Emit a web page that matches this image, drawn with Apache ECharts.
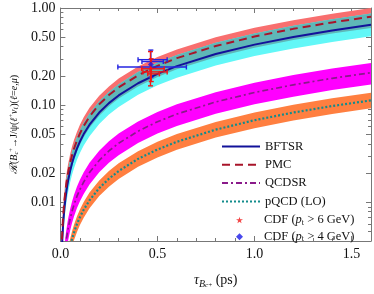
<!DOCTYPE html>
<html><head><meta charset="utf-8">
<script src="https://cdn.jsdelivr.net/npm/echarts@6/dist/echarts.min.js"></script>
<style>html,body{margin:0;padding:0;background:#fff}#c{width:374px;height:294px}</style>
</head><body><div id="c"></div>
<script>
// lifetime grid (ps)
const tau = [0.006,0.008,0.01,0.013,0.016,0.02,0.025,0.03,0.035,0.04,0.05,0.06,0.07,0.085,0.1,0.12,0.15,0.2,0.25,0.3,0.4,0.5,0.6,0.8,1.0,1.2,1.4,1.6];
// BFTSR
const bftsr   = [0.00252,0.00336,0.0042,0.00546,0.00672,0.0084,0.0105,0.0126,0.0147,0.0168,0.021,0.0252,0.0294,0.0357,0.042,0.0504,0.063,0.084,0.105,0.126,0.168,0.21,0.252,0.336,0.42,0.504,0.588,0.672];
const bftsrHi = [0.00329,0.00438,0.00548,0.00712,0.00877,0.011,0.0137,0.0164,0.0192,0.0219,0.0274,0.0329,0.0384,0.0466,0.0548,0.0658,0.0822,0.11,0.137,0.164,0.219,0.274,0.329,0.438,0.548,0.658,0.767,0.877];
const bftsrLo = [0.00192,0.00256,0.0032,0.00416,0.00512,0.0064,0.008,0.0096,0.0112,0.0128,0.016,0.0192,0.0224,0.0272,0.032,0.0384,0.048,0.064,0.08,0.096,0.128,0.16,0.192,0.256,0.32,0.384,0.448,0.512];
// PMC
const pmc   = [0.00305,0.00406,0.00508,0.0066,0.00813,0.0102,0.0127,0.0152,0.0178,0.0203,0.0254,0.0305,0.0356,0.0432,0.0508,0.061,0.0762,0.102,0.127,0.152,0.203,0.254,0.305,0.406,0.508,0.61,0.711,0.813];
const pmcHi = [0.00375,0.005,0.00625,0.00813,0.01,0.0125,0.0156,0.0188,0.0219,0.025,0.0313,0.0375,0.0438,0.0531,0.0625,0.075,0.0938,0.125,0.156,0.188,0.25,0.313,0.375,0.5,0.625,0.75,0.875,1.0];
const pmcLo = [0.00234,0.00312,0.0039,0.00507,0.00624,0.0078,0.00975,0.0117,0.0137,0.0156,0.0195,0.0234,0.0273,0.0332,0.039,0.0468,0.0585,0.078,0.0975,0.117,0.156,0.195,0.234,0.312,0.39,0.468,0.546,0.624];
// QCDSR
const qcdsr   = [0.00081,0.00108,0.00135,0.00176,0.00216,0.0027,0.00338,0.00405,0.00473,0.0054,0.00675,0.0081,0.00945,0.0115,0.0135,0.0162,0.0203,0.027,0.0338,0.0405,0.054,0.0675,0.081,0.108,0.135,0.162,0.189,0.216];
const qcdsrHi = [0.00102,0.00136,0.0017,0.00221,0.00272,0.0034,0.00425,0.0051,0.00595,0.0068,0.0085,0.0102,0.0119,0.0145,0.017,0.0204,0.0255,0.034,0.0425,0.051,0.068,0.085,0.102,0.136,0.17,0.204,0.238,0.272];
const qcdsrLo = [0.000612,0.000816,0.00102,0.00133,0.00163,0.00204,0.00255,0.00306,0.00357,0.00408,0.0051,0.00612,0.00714,0.00867,0.0102,0.0122,0.0153,0.0204,0.0255,0.0306,0.0408,0.051,0.0612,0.0816,0.102,0.122,0.143,0.163];
// pQCD (LO)
const pqcd   = [0.00042,0.00056,0.0007,0.00091,0.00112,0.0014,0.00175,0.0021,0.00245,0.0028,0.0035,0.0042,0.0049,0.00595,0.007,0.0084,0.0105,0.014,0.0175,0.021,0.028,0.035,0.042,0.056,0.07,0.084,0.098,0.112];
const pqcdHi = [0.000504,0.000672,0.00084,0.00109,0.00134,0.00168,0.0021,0.00252,0.00294,0.00336,0.0042,0.00504,0.00588,0.00714,0.0084,0.0101,0.0126,0.0168,0.021,0.0252,0.0336,0.042,0.0504,0.0672,0.084,0.101,0.118,0.134];
const pqcdLo = [0.000348,0.000464,0.00058,0.000754,0.000928,0.00116,0.00145,0.00174,0.00203,0.00232,0.0029,0.00348,0.00406,0.00493,0.0058,0.00696,0.0087,0.0116,0.0145,0.0174,0.0232,0.029,0.0348,0.0464,0.058,0.0696,0.0812,0.0928];
// CDF measurements: [tau, R, tauLo, tauHi, RLo, RHi]
const cdf6Bars = [
  [0.464, 0.237, 0.419, 0.535, 0.158, 0.356],
  [0.468, 0.220, 0.425, 0.550, 0.175, 0.300],
  [0.470, 0.210, 0.450, 0.510, null, null]
];
const cdf4Bars = [
  [0.466, 0.294, 0.400, 0.550, 0.193, 0.369],
  [0.470, 0.281, 0.420, 0.530, null, null],
  [0.466, 0.247, 0.296, 0.649, null, null]
];
const cdf6Point = [0.464, 0.237];
const cdf4Point = [0.466, 0.262];
// ticks
const xTickLabels = [0, 0.5, 1.0, 1.5];
const xMinorTicks = [0.1,0.2,0.3,0.4,0.6,0.7,0.8,0.9,1.1,1.2,1.3,1.4];
const yTickLabels = [0.01, 0.02, 0.05, 0.1, 0.2, 0.5, 1.0];
const yMinorTicks = [0.005,0.006,0.007,0.008,0.009,0.03,0.04,0.06,0.07,0.08,0.09,0.3,0.4,0.6,0.7,0.8,0.9];

const FONT = "'Liberation Serif','DejaVu Serif',serif";
const AX = '#777';

function pairs(ys){ return tau.map((t,i)=>[t, ys[i]]); }
function band(lo, hi, color, z){
  return {
    type:'custom', silent:true, z:z, clip:true,
    data: tau.map((t,i)=>[t, lo[i], hi[i]]),
    encode:{x:0, y:[1,2]},
    renderItem(params, api){
      if (params.dataIndex !== 0) return null;
      const pts = [];
      for (let i=0;i<tau.length;i++) pts.push(api.coord([tau[i], hi[i]]));
      for (let i=tau.length-1;i>=0;i--) pts.push(api.coord([tau[i], lo[i]]));
      const cs = params.coordSys;
      return {type:'polygon', shape:{points:pts}, style:{fill:color},
        clipPath:{type:'rect', shape:{x:cs.x, y:cs.y, width:cs.width, height:cs.height}}};
    }
  };
}
function errBars(rows, color, z){
  return {
    type:'custom', silent:true, z:z,
    data: rows,
    encode:{x:0, y:1},
    renderItem(params, api){
      const r = rows[params.dataIndex];
      const ch = [];
      const st = {stroke:color, lineWidth:1.4};
      const c = 2.5;
      const a = api.coord([r[2], r[1]]), b = api.coord([r[3], r[1]]);
      ch.push({type:'line', shape:{x1:a[0],y1:a[1],x2:b[0],y2:b[1]}, style:st});
      ch.push({type:'line', shape:{x1:a[0],y1:a[1]-c,x2:a[0],y2:a[1]+c}, style:st});
      ch.push({type:'line', shape:{x1:b[0],y1:b[1]-c,x2:b[0],y2:b[1]+c}, style:st});
      if (r[4] != null){
        const p = api.coord([r[0], r[4]]), q = api.coord([r[0], r[5]]);
        ch.push({type:'line', shape:{x1:p[0],y1:p[1],x2:q[0],y2:q[1]}, style:st});
        ch.push({type:'line', shape:{x1:p[0]-c,y1:p[1],x2:p[0]+c,y2:p[1]}, style:st});
        ch.push({type:'line', shape:{x1:q[0]-c,y1:q[1],x2:q[0]+c,y2:q[1]}, style:st});
      }
      return {type:'group', children:ch};
    }
  };
}
const STAR = 'path://M50,0 L61,35 L98,35 L68,57 L79,91 L50,70 L21,91 L32,57 L2,35 L39,35 Z';

function xAx(pos, major){
  return {
    type:'value', min:0, max:1.6, position:pos,
    axisLine:{show:major, onZero:false, lineStyle:{color:AX, width:1}},
    axisTick:{show:true, inside:true, length: major?5:3, customValues: major?xTickLabels:xMinorTicks, lineStyle:{color:AX}},
    axisLabel:{show: major && pos==='bottom', customValues:xTickLabels, formatter:v=>Number(v).toFixed(1),
      fontFamily:FONT, fontSize:14, color:'#111', margin:6},
    splitLine:{show:false}
  };
}
function yAx(pos, major){
  return {
    type:'log', logBase:10, min:0.004, max:1, position:pos,
    axisLine:{show:major, onZero:false, lineStyle:{color:AX, width:1}},
    axisTick:{show:true, inside:true, length: major?5:3, customValues: major?yTickLabels:yMinorTicks, lineStyle:{color:AX}},
    axisLabel:{show: major && pos==='left', customValues:yTickLabels, formatter:v=>Number(v).toFixed(2),
      fontFamily:FONT, fontSize:14, color:'#111', margin:5},
    splitLine:{show:false}, minorTick:{show:false}
  };
}
const xs = [xAx('bottom',true), xAx('bottom',false), xAx('top',true), xAx('top',false)];
xs[0].name = '{t|τ}{b|B}{c|c}{p|+}{n| (ps)}';
xs[0].nameLocation = 'middle'; xs[0].nameGap = 30;
xs[0].nameTextStyle = {fontFamily:FONT, color:'#111', rich:{
  t:{fontSize:14, fontStyle:'italic', fontFamily:FONT},
  b:{fontSize:10, fontStyle:'italic', fontFamily:FONT, verticalAlign:'bottom', padding:[8,0,0,0]},
  c:{fontSize:7, fontStyle:'italic', fontFamily:FONT, verticalAlign:'bottom', padding:[11,0,0,0]},
  p:{fontSize:7, fontFamily:FONT, verticalAlign:'bottom', padding:[4,0,0,0]},
  n:{fontSize:14, fontFamily:FONT}}};
const ys = [yAx('left',true), yAx('left',false), yAx('right',true), yAx('right',false)];
ys[0].name = '{r|ℛ}{n|(}{i|B}{s|c}{u|+}{n|→J/ψ(}{i|ℓ}{u|+}{i|ν}{s|ℓ}{n|)(}{i|ℓ}{n|=}{i|e}{n|,}{i|μ}{n|)}';
ys[0].nameLocation = 'middle'; ys[0].nameRotate = 90; ys[0].nameGap = 38;
ys[0].nameTextStyle = {fontFamily:FONT, color:'#111', rich:{
  r:{fontSize:11, fontFamily:FONT, fontStyle:'italic'},
  n:{fontSize:10, fontFamily:FONT},
  i:{fontSize:10, fontFamily:FONT, fontStyle:'italic'},
  s:{fontSize:6.5, fontFamily:FONT, fontStyle:'italic', verticalAlign:'bottom', padding:[5,0,0,0]},
  u:{fontSize:6.5, fontFamily:FONT, verticalAlign:'bottom', padding:[0,0,5,0]}}};

const legendRich = {
  n:{fontSize:12.5, fontFamily:FONT, color:'#111', lineHeight:13},
  i:{fontSize:12.5, fontFamily:FONT, fontStyle:'italic', color:'#111', lineHeight:13},
  s:{fontSize:8, fontFamily:FONT, color:'#111', verticalAlign:'bottom', lineHeight:13, padding:[5,0,0,0]},
  sp:{width:16}
};
function legFmt(name){
  if (name.indexOf('CDF')===0){
    const g = name.indexOf('6')>0 ? '6' : '4';
    return '{sp|}{n|CDF (}{i|p}{s|t}{n| > '+g+' GeV)}';
  }
  return '{n|'+name+'}';
}

const option = {
  animation:false,
  backgroundColor:'#fff',
  grid:{left:49, right:3, top:8, bottom:46, containLabel:false},
  xAxis: xs,
  yAxis: ys,
  legend:[
    {orient:'vertical', left:221, top:140, itemWidth:38, itemHeight:8, itemGap:5.3, padding:0,
     itemStyle:{opacity:0},
     data:['BFTSR','PMC','QCDSR','pQCD (LO)'], formatter:legFmt, textStyle:{rich:legendRich}, selectedMode:false},
    {orient:'vertical', left:236, top:213.5, itemWidth:7, itemHeight:7, itemGap:3.7, padding:0,
     data:['CDF (pt > 6 GeV)','CDF (pt > 4 GeV)'], formatter:legFmt, textStyle:{rich:legendRich}, selectedMode:false}
  ],
  series:[
    band(pmcLo, pmcHi, '#f86f6f', 1),
    band(bftsrLo, bftsrHi, '#62f7f7', 2),
    band(pmcLo, bftsrHi, '#5fb7b7', 3),
    band(qcdsrLo, qcdsrHi, '#ff00ff', 1),
    band(pqcdLo, pqcdHi, '#ff7f40', 1),
    {name:'BFTSR', type:'line', data:pairs(bftsr), symbol:'none', z:5, clip:true,
     lineStyle:{color:'#12129a', width:2}, itemStyle:{color:'#12129a'}},
    {name:'PMC', type:'line', data:pairs(pmc), symbol:'none', z:5, clip:true,
     lineStyle:{color:'#a8142a', width:2, type:[8,5]}, itemStyle:{color:'#a8142a'}},
    {name:'QCDSR', type:'line', data:pairs(qcdsr), symbol:'none', z:5, clip:true,
     lineStyle:{color:'#8a1a8a', width:1.7, type:[6,3,2,3]}, itemStyle:{color:'#8a1a8a'}},
    {name:'pQCD (LO)', type:'line', data:pairs(pqcd), symbol:'none', z:5, clip:true,
     lineStyle:{color:'#138c8c', width:2.2, type:[2,2]}, itemStyle:{color:'#138c8c'}},
    errBars(cdf4Bars, '#2424e0', 6),
    errBars(cdf6Bars, '#f01818', 7),
    {name:'CDF (pt > 4 GeV)', type:'scatter', data:[cdf4Point], symbol:'diamond', symbolSize:6, z:8,
     itemStyle:{color:'#1a1ae8'}},
    {name:'CDF (pt > 6 GeV)', type:'scatter', data:[cdf6Point], symbol:STAR, symbolSize:7, z:9,
     itemStyle:{color:'#f01818'}}
  ]
};
const chart = echarts.init(document.getElementById('c'), null, {renderer:'canvas'});
chart.setOption(option);
</script>
</body></html>
